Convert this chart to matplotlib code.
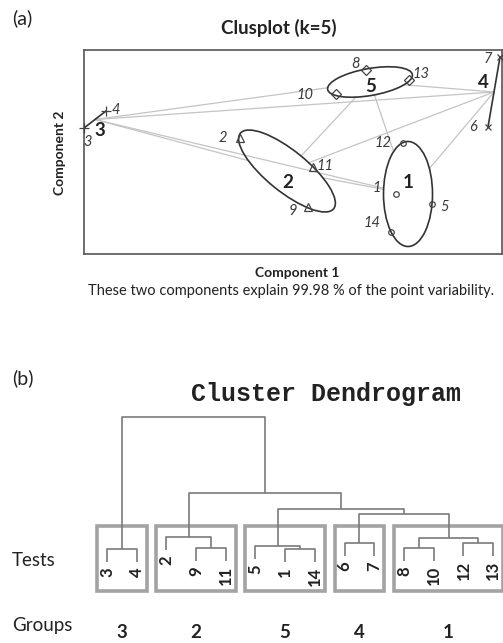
import matplotlib
matplotlib.use("Agg")
import matplotlib.pyplot as plt
import numpy as np
from matplotlib.patches import Ellipse, Rectangle

W, H = 503, 643
SANS = ["Lato", "DejaVu Sans"]
plt.rcParams["font.family"] = SANS

# (a) clusplot: component scores of the 14 tests
tests = [1, 2, 3, 4, 5, 6, 7, 8, 9, 10, 11, 12, 13, 14]
comp1 = [2.12, -1.00, -4.12, -3.68, 2.84, 3.96, 4.20, 1.52, 0.36, 0.92, 0.46, 2.26, 2.38, 2.02]
comp2 = [-0.68, 0.44, 0.64, 0.98, -0.88, 0.66, 2.06, 1.80, -0.94, 1.32, -0.14, 0.34, 1.60, -1.44]
cluster = [1, 2, 3, 3, 1, 4, 4, 5, 2, 5, 2, 1, 5, 1]
label_x = [1.74, -1.34, -4.04, -3.48, 3.10, 3.66, 3.96, 1.30, 0.06, 0.30, 0.70, 1.86, 2.62, 1.64]
label_y = [-0.56, 0.44, 0.36, 1.00, -0.94, 0.66, 2.02, 1.92, -1.02, 1.30, -0.12, 0.34, 1.72, -1.26]

# ellipses for clusters 1, 2, 5 (clusters 3 and 4 have two points only)
ell_cluster = [1, 2, 5]
ell_cx = [2.36, -0.06, 1.60]
ell_cy = [-0.68, -0.22, 1.56]
ell_a = [0.49, 1.20, 0.86]
ell_b = [1.05, 0.41, 0.27]
ell_angle = [0, -39, 10]

clus_names = [1, 2, 3, 4, 5]
clus_lab_x = [2.36, -0.04, -3.80, 3.86, 1.62]
clus_lab_y = [-0.44, -0.44, 0.58, 1.56, 1.48]
markers = {1: "o", 2: "^", 3: "+", 4: "x", 5: "D"}

# (b) dendrogram, R style merge table (negative = test, positive = merge row)
merge_left = [-3, -9, -2, -1, -5, -6, -8, -12, 7, 6, 5, 3, 1]
merge_right = [-4, -11, 2, -14, 4, -7, -10, -13, 8, 9, 10, 11, 12]
merge_height = [0.13, 0.14, 0.25, 0.13, 0.16, 0.19, 0.14, 0.19, 0.24, 0.48, 0.53, 0.69, 1.45]
leaf_order = [3, 4, 2, 9, 11, 5, 1, 14, 6, 7, 8, 10, 12, 13]
dend_group = {3: 3, 4: 3, 2: 2, 9: 2, 11: 2, 5: 5, 1: 5, 14: 5, 6: 4, 7: 4, 8: 1, 10: 1, 12: 1, 13: 1}
HANG = 0.13


def fx(px):
    return px / W


def fy(py):
    return 1 - py / H


fig = plt.figure(figsize=(W / 100, H / 100), dpi=100)

# ---------------- (a) ----------------
ax = fig.add_axes([fx(84), fy(254), (502 - 84) / W, (254 - 50) / H])
ax.set_xlim(-4.12, 4.24)
ax.set_ylim(-1.88, 2.2)
ax.set_xticks([])
ax.set_yticks([])
for s in ax.spines.values():
    s.set_color("#555555")
    s.set_linewidth(1.2)

x = np.array(comp1)
y = np.array(comp2)
cl = np.array(cluster)

centres = {}
shapes = {}
for c in clus_names:
    if c in ell_cluster:
        i = ell_cluster.index(c)
        centres[c] = np.array([ell_cx[i], ell_cy[i]])
        shapes[c] = (ell_a[i], ell_b[i], np.deg2rad(ell_angle[i]))
    else:
        centres[c] = np.array([x[cl == c].mean(), y[cl == c].mean()])
        shapes[c] = None


def exit_t(c, d):
    # fraction of the centre-to-centre vector that lies inside cluster c's ellipse
    if shapes[c] is None:
        return 0.0
    a, b, th = shapes[c]
    u = d[0] * np.cos(th) + d[1] * np.sin(th)
    v = -d[0] * np.sin(th) + d[1] * np.cos(th)
    return 1.0 / np.hypot(u / a, v / b)


for i, ci in enumerate(clus_names):
    for cj in clus_names[i + 1:]:
        p, q = centres[ci], centres[cj]
        d = q - p
        t0, t1 = exit_t(ci, d), 1 - exit_t(cj, -d)
        if t0 < t1:
            a0, a1 = p + t0 * d, p + t1 * d
            ax.plot([a0[0], a1[0]], [a0[1], a1[1]], color="#c4c4c4", lw=0.9, zorder=1)

for c in clus_names:
    if shapes[c] is None:
        ax.plot(x[cl == c], y[cl == c], color="#333333", lw=1.2, zorder=2)
    else:
        a, b, th = shapes[c]
        ax.add_patch(Ellipse(centres[c], 2 * a, 2 * b, angle=np.rad2deg(th),
                             fill=False, ec="#333333", lw=1.2, zorder=2))

for c in clus_names:
    m = cl == c
    mk = markers[c]
    face = "none" if mk not in ("+", "x") else "#444444"
    size = {"o": 4, "^": 6, "+": 7, "x": 5, "D": 5}[mk]
    ax.plot(x[m], y[m], ls="none", marker=mk, ms=size, mfc=face, mec="#444444", mew=0.9,
            zorder=3, clip_on=False)

for t, lx, ly in zip(tests, label_x, label_y):
    ax.text(lx, ly, str(t), style="italic", fontsize=10.5, color="#3a3a3a",
            ha="center", va="center", zorder=4)
for c, lx, ly in zip(clus_names, clus_lab_x, clus_lab_y):
    ax.text(lx, ly, str(c), fontweight="bold", fontsize=13.5, color="#222222",
            ha="center", va="center", zorder=4)

fig.text(fx(12), fy(18), "(a)", fontsize=14, ha="left", va="center", color="#222222")
fig.text(fx(279), fy(28), "Clusplot (k=5)", fontsize=13.5, fontweight="bold",
         ha="center", va="center", color="#222222")
fig.text(fx(297), fy(273), "Component 1", fontsize=10, fontweight="bold",
         ha="center", va="center", color="#222222")
fig.text(fx(60), fy(153), "Component 2", fontsize=10, fontweight="bold", rotation=90,
         ha="center", va="center", color="#222222")
fig.text(fx(291), fy(291), "These two components explain 99.98 % of the point variability.",
         fontsize=10.5, ha="center", va="center", color="#222222")

# ---------------- (b) ----------------
SP = 29.7
bx = fig.add_axes([0, 0, 1, (643 - 400) / H])
bx.set_xlim(-107 / SP, (503 - 107) / SP)
bx.set_ylim(-0.81, 1.62)
bx.axis("off")

pos = {}
for k, t in enumerate(leaf_order):
    pos[-t] = k
LINE = dict(color="#7a7a7a", lw=1.2, solid_capstyle="butt")
for r, (lft, rgt, h) in enumerate(zip(merge_left, merge_right, merge_height), start=1):
    xs, ys = [], []
    for child in (lft, rgt):
        xs.append(pos[child])
        ys.append(merge_height[child - 1] if child > 0 else h - HANG)
    bx.plot([xs[0], xs[0], xs[1], xs[1]], [ys[0], h, h, ys[1]], **LINE)
    pos[r] = (xs[0] + xs[1]) / 2
    for child, xc, yc in zip((lft, rgt), xs, ys):
        if child < 0:
            bx.text(xc, yc - 0.05, str(-child), rotation=90, fontsize=12, fontweight="bold",
                    ha="center", va="top", color="#222222")

k = len(set(dend_group.values()))
top = np.mean(sorted(merge_height, reverse=True)[k - 2:k])
groups_in_order = []
for kk, t in enumerate(leaf_order):
    g = dend_group[t]
    if not groups_in_order or groups_in_order[-1][0] != g:
        groups_in_order.append([g, kk, kk])
    else:
        groups_in_order[-1][2] = kk
for g, first, last in groups_in_order:
    x0, x1 = first - 0.34, last + 0.33
    bx.add_patch(Rectangle((x0, -0.29), x1 - x0, top + 0.29, fill=False,
                           ec="#a3a3a3", lw=2.6, clip_on=False))
    bx.text((x0 + x1) / 2, -0.71, str(g), fontsize=13.5, fontweight="bold",
            ha="center", va="center", color="#222222")

fig.text(fx(12), fy(378), "(b)", fontsize=14, ha="left", va="center", color="#222222")
fig.text(fx(326), fy(394), "Cluster Dendrogram", fontsize=18, fontweight="bold",
         family=["Liberation Mono", "DejaVu Sans Mono"], ha="center", va="center",
         color="#222222")
fig.text(fx(12), fy(561), "Tests", fontsize=13.5, ha="left", va="center", color="#222222")
fig.text(fx(12), fy(625), "Groups", fontsize=13.5, ha="left", va="center", color="#222222")

fig.savefig("out.png", dpi=100)
